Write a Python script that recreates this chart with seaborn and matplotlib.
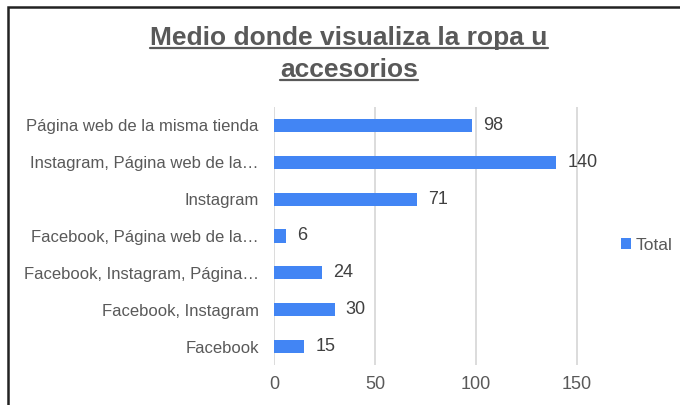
import matplotlib
matplotlib.use("Agg")
import matplotlib.pyplot as plt
import seaborn as sns
import pandas as pd
from matplotlib.patches import Patch, Rectangle
from matplotlib.lines import Line2D

categories = [
    "Página web de la misma tienda",
    "Instagram, Página web de la…",
    "Instagram",
    "Facebook, Página web de la…",
    "Facebook, Instagram, Página…",
    "Facebook, Instagram",
    "Facebook",
]
values = [98, 140, 71, 6, 24, 30, 15]
xticks = [0, 50, 100, 150]
title_lines = ["Medio donde visualiza la ropa u", "accesorios"]
legend_label = "Total"

sns.set_theme(style="white")
plt.rcParams["font.family"] = ["Liberation Sans", "DejaVu Sans"]

df = pd.DataFrame({"cat": categories, "val": values})
BLUE = "#4285F4"
GRAY = "#595959"

fig = plt.figure(figsize=(6.8, 4.05), dpi=100)
ax = fig.add_axes([274/680, 1-365/405, (617-274)/680, (365-107)/405])
sns.barplot(data=df, x="val", y="cat", orient="h", color=BLUE, width=0.36,
            saturation=1, ax=ax)
for p in ax.patches:
    p.set_edgecolor("none")
ax.set_xlim(0, 170)
ax.set_ylim(6.5, -0.5)
ax.set_xticks(xticks)
ax.set_xticklabels([str(t) for t in xticks])
ax.set_xlabel("")
ax.set_ylabel("")
for s in ax.spines.values():
    s.set_visible(False)
ax.grid(axis="x", color="#d9d9d9", linewidth=1.3)
ax.grid(axis="y", visible=False)
ax.set_axisbelow(True)
ax.tick_params(axis="both", length=0, labelcolor=GRAY)
ax.tick_params(axis="x", pad=8, labelsize=13)
ax.tick_params(axis="y", pad=11, labelsize=12)
ax.bar_label(ax.containers[0], labels=[str(v) for v in values], padding=8,
             fontsize=13, color="#404040")

# Title with underline
t1 = fig.text(349/680, 1-38/405, title_lines[0], ha="center",
              va="center", fontsize=19, fontweight="bold", color=GRAY)
t2 = fig.text(349/680, 1-70/405, title_lines[1], ha="center", va="center",
              fontsize=19, fontweight="bold", color=GRAY)
fig.canvas.draw()
r = fig.canvas.get_renderer()
for t in (t1, t2):
    bb = t.get_window_extent(renderer=r)
    y = (bb.y0 + 2) / fig.bbox.height
    fig.add_artist(Line2D([bb.x0 / fig.bbox.width, bb.x1 / fig.bbox.width], [y, y],
                          transform=fig.transFigure, color=GRAY, linewidth=1.6))

# Legend
fig.legend(handles=[Patch(facecolor=BLUE, edgecolor="none", label=legend_label)],
           loc="center left", bbox_to_anchor=(621/680, 1-245/405), frameon=False,
           fontsize=12.5, labelcolor=GRAY, handlelength=0.6, handleheight=0.6,
           handletextpad=0.25, borderpad=0, borderaxespad=0)

# Chart border
fig.add_artist(Rectangle((8/680, -0.1), 1.2, 1-7/405+0.1, transform=fig.transFigure,
                         fill=False, edgecolor="#222222", linewidth=1.8))

fig.savefig("out.png", dpi=100)
